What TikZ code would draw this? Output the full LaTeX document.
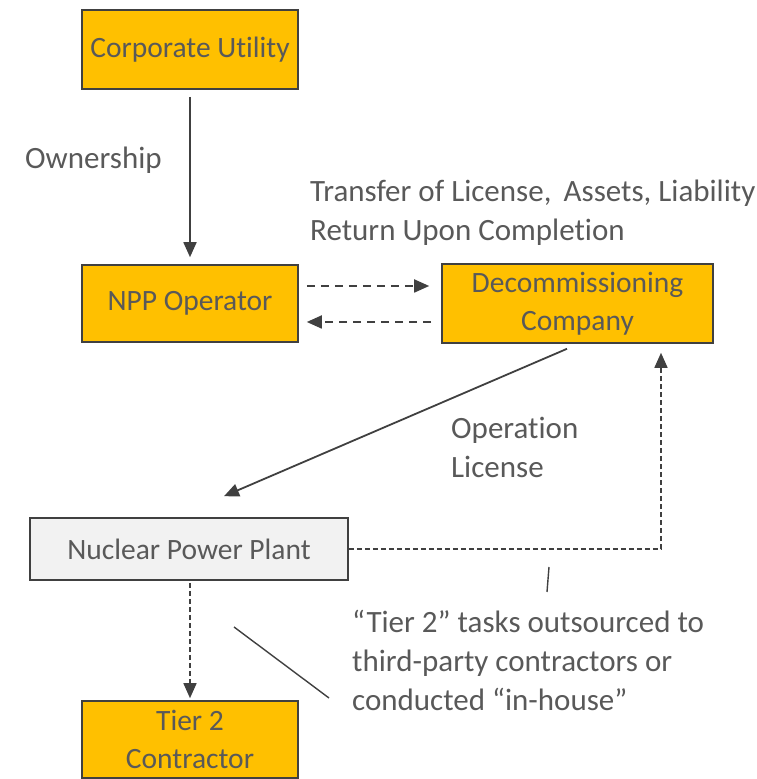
\documentclass[tikz,border=0pt]{standalone}
\usepackage{fontspec}
\setmainfont{Carlito}[Ligatures=NoCommon]
\usetikzlibrary{arrows.meta,calc}
\definecolor{boxgold}{HTML}{FFC000}
\definecolor{plantgray}{HTML}{F2F2F2}
\definecolor{edgegray}{HTML}{404040}
\definecolor{txtgray}{HTML}{595959}
\begin{document}
\begin{tikzpicture}[x=1pt,y=1pt,
  box/.style={draw=edgegray, line width=1.6pt, fill=boxgold, text=txtgray,
    align=center, inner sep=0pt, font=\fontsize{29.5}{38}\selectfont},
  plantbox/.style={box, fill=plantgray},
  lbl/.style={text=txtgray, align=left, anchor=west, inner sep=0pt,
    font=\fontsize{31}{39}\selectfont},
  tip/.style={-{Triangle[length=15pt,width=13pt]}},
  link/.style={tip, draw=edgegray, line width=1.8pt},
  dlink/.style={link, dash pattern=on 8pt off 6pt},
  flink/.style={link, line width=1.5pt, dash pattern=on 5pt off 3pt},
  calloutline/.style={draw=edgegray, line width=1.4pt}
]
\useasboundingbox (0,0) rectangle (756,779);

% organisations
\node[box, minimum width=216pt, minimum height=79pt] (cu) at (190,729.5) {Corporate Utility};
\node[box, minimum width=216pt, minimum height=77pt] (op) at (190,475.5) {NPP Operator};
\node[box, minimum width=271pt, minimum height=79pt] (dc) at (577.5,475.5) {Decommissioning\\Company};
\node[plantbox, minimum width=318pt, minimum height=62pt] (npp) at (189,230) {Nuclear Power Plant};
\node[box, minimum width=216pt, minimum height=77pt] (t2) at (190,39.5) {Tier 2\\Contractor};

% relation labels
\node[lbl] (own) at (25,619) {Ownership};
\node[lbl] (xfer) at (310,566.5) {Transfer of License,\, Assets, Liability\\Return Upon Completion};
\node[lbl] (lic) at (451,331.5) {Operation\\License};
\node[lbl] (note) at (352,119) {``Tier 2'' tasks outsourced to\\third-party contractors or\\conducted ``in-house''};

% connectors
\draw[link, shorten <=7pt, shorten >=7pt] (cu.south) -- (op.north);
\draw[dlink] ($(op.east)+(8,17.5)$) -- ($(dc.west)+(-12,17.5)$);
\draw[dlink] ($(dc.west)+(-10,-18.5)$) -- ($(op.east)+(8,-18.5)$);
\draw[link] ($(dc.south)+(-10.5,-5)$) -- ($(npp.north)+(35,21)$);
\draw[flink, shorten >=9pt] (npp.east) -| ($(dc.south)+(83.5,0)$);
\draw[flink, shorten <=2pt, shorten >=2pt] ($(npp.south)+(1,0)$) -- (t2.north);

% callout marks
\coordinate (m1) at (549,212);
\coordinate (m2) at (547,187);
\draw[calloutline] (m1) -- (m2);
\coordinate (c1) at (234,152);
\coordinate (c2) at (329,81);
\draw[calloutline] (c1) -- (c2);
\end{tikzpicture}
\end{document}
